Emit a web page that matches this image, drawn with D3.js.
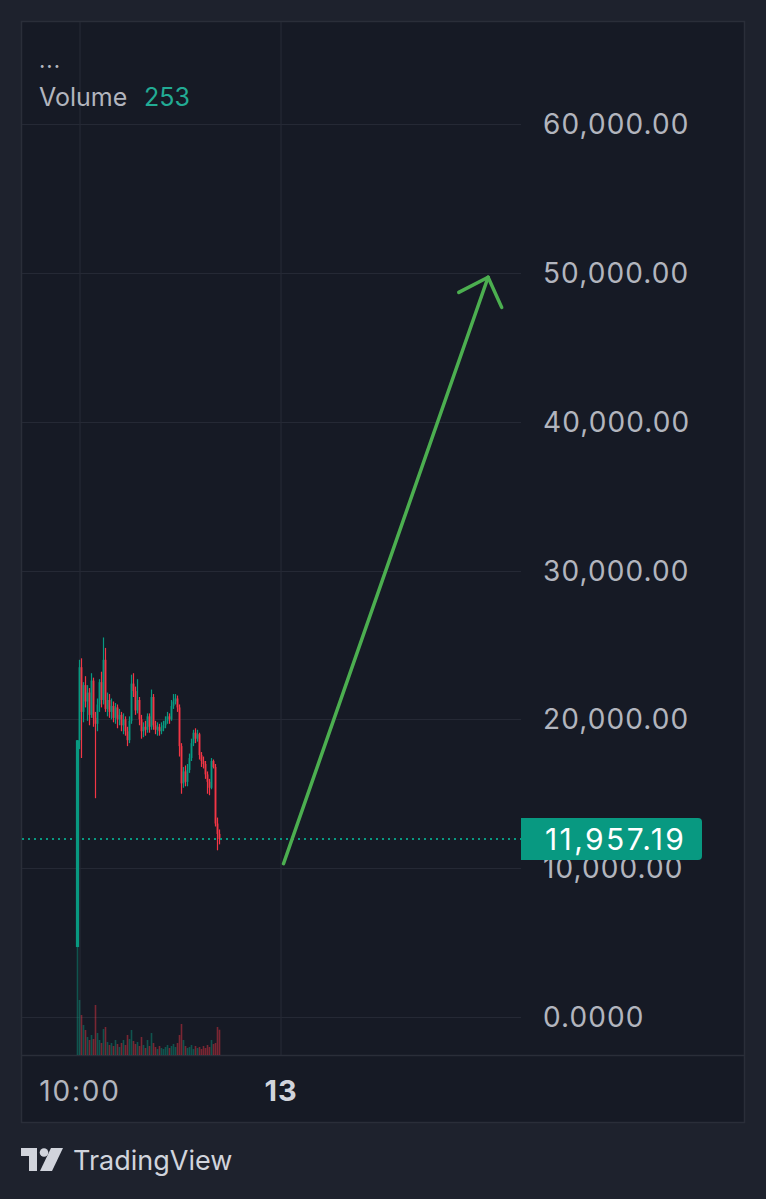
<!DOCTYPE html>
<html><head><meta charset="utf-8">
<script src="https://cdn.jsdelivr.net/npm/d3@7"></script>
<style>html,body{margin:0;padding:0;background:#1e222d;}svg{display:block;}</style>
</head><body>
<svg id="c" width="766" height="1199"></svg>
<script>
// ---- data ----
const opens  = [4700,18600,23500,20500,22300,21200,21800,20300,22600,20100,19700,21000,22500,21300,24000,20700,21300,20500,20900,20100,20800,20000,20300,19600,20000,19200,18600,19900,22400,21900,20600,21300,20000,19200,19500,19300,20200,19500,21500,19600,19300,19500,19200,19400,19600,19900,20200,20000,20900,21200,21400,20800,18200,15700,16500,15800,16600,17400,18400,19100,18700,19000,17600,17200,17000,16300,15800,15400,17200,16800,13000,12300];
const highs  = [18600,24000,24100,22500,22900,22300,22100,23100,22800,20500,21400,22700,23200,25500,24800,21800,21700,21400,21200,21100,21000,20700,20500,20400,20200,19500,20200,23000,23100,22200,22700,21500,20300,19800,19900,20400,20400,22000,21700,19900,19800,19700,19800,19900,20200,20500,20400,21300,21700,21700,21600,21000,18400,16800,16900,17000,17700,18700,19300,19400,19300,19100,17800,17500,17200,16500,16000,17400,17300,17000,13400,12600];
const lows   = [4700,18000,17400,19800,20800,19900,19600,20100,19500,14700,19200,20500,20800,21000,20500,20200,20100,20000,19800,19700,19400,19600,19200,19000,18900,18200,18400,19700,21500,20300,20400,19600,18700,18800,18900,19100,19100,19300,19300,19000,18900,18900,19000,19200,19400,19700,19700,19900,20700,21000,20500,17500,15000,15400,15500,15500,16400,17200,18200,18400,18500,17300,16800,16700,16000,15000,14900,15300,16700,12800,11200,11600];
const closes = [18600,23500,20500,22300,21200,21800,20300,22600,20100,19700,21000,22500,21300,24000,20700,21300,20500,20900,20100,20800,20000,20300,19600,20000,19200,18600,19900,22400,21900,20600,21300,20000,19200,19500,19300,20200,19500,21500,19600,19300,19500,19200,19400,19600,19900,20200,20000,20900,21200,21400,20800,18200,15700,16500,15800,16600,17400,18400,19100,18700,19000,17600,17200,17000,16300,15800,15400,17200,16800,13000,12300,11957.19];
const volumes = [1100,550,400,300,250,180,150,200,160,500,220,150,120,260,280,130,100,120,90,150,110,80,120,150,100,200,160,250,140,110,130,90,180,100,70,150,90,220,120,80,60,90,70,60,80,100,70,90,110,80,120,200,310,150,90,70,80,100,60,90,70,80,60,90,70,100,80,150,110,120,280,253];
const priceTicks = [0,10000,20000,30000,40000,50000,60000];
const priceTickLabels = ["0.0000","10,000.00","20,000.00","30,000.00","40,000.00","50,000.00","60,000.00"];
const timeTicks = [1.25,101.75];
const timeTickLabels = ["10:00","13"];
const lastPriceLabel = "11,957.19";
const volumeLabel = "Volume";
const volumeValueLabel = "253";
// arrow drawing (bar index, price)
const arrowStart = [103, 10300];
const arrowEnd = [205.3, 49700];

// ---- chart ----
const svg = d3.select("#c");
const UP = "#089981", DOWN = "#f23645";
const frame = {x:21, y:21, w:724, h:1102};
const plotRight = 521, plotBottom = 1055;

const x = d3.scaleLinear().domain([0,100]).range([77.5,277.5]);
const y = d3.scaleLinear().domain([0,60000]).range([1017,124]);
const vh = d3.scaleLinear().domain([0,1000]).range([0,100]);

svg.append("rect").attr("width",766).attr("height",1199).attr("fill","#1e222d");
svg.append("rect").attr("x",frame.x+0.5).attr("y",frame.y+0.5).attr("width",frame.w-1).attr("height",frame.h-1)
  .attr("fill","#161a25").attr("stroke","#2a2e39").attr("stroke-width",1.5);

// grid
const grid = svg.append("g").attr("stroke","#252935").attr("stroke-width",1.2);
grid.selectAll("line.h").data(priceTicks).join("line")
  .attr("x1",frame.x+1).attr("x2",plotRight).attr("y1",d=>Math.round(y(d))+0.5).attr("y2",d=>Math.round(y(d))+0.5);
grid.selectAll("line.v").data(timeTicks).join("line")
  .attr("x1",d=>x(d)).attr("x2",d=>x(d)).attr("y1",frame.y+1).attr("y2",plotBottom);
svg.append("line").attr("x1",frame.x).attr("x2",frame.x+frame.w).attr("y1",plotBottom+0.5).attr("y2",plotBottom+0.5)
  .attr("stroke","#2a2e39").attr("stroke-width",1.5);

const idx = d3.range(closes.length);
const col = i => closes[i] >= opens[i] ? UP : DOWN;

// volume
svg.append("g").selectAll("rect").data(idx).join("rect")
  .attr("x",i=>x(i)-0.8).attr("width",1.6)
  .attr("y",i=>plotBottom-vh(volumes[i])).attr("height",i=>vh(volumes[i]))
  .attr("fill",i=>col(i)).attr("opacity",0.45);

// candles
const cg = svg.append("g");
cg.selectAll("line").data(idx).join("line")
  .attr("x1",i=>x(i)).attr("x2",i=>x(i)).attr("y1",i=>y(highs[i])).attr("y2",i=>y(lows[i]))
  .attr("stroke",i=>col(i)).attr("stroke-width",1.2);
cg.selectAll("rect").data(idx).join("rect")
  .attr("x",(i)=>x(i)-(i===0?1.6:0.9)).attr("width",(i)=>i===0?3.2:1.8)
  .attr("y",i=>y(Math.max(opens[i],closes[i])))
  .attr("height",i=>Math.max(1,Math.abs(y(opens[i])-y(closes[i]))))
  .attr("fill",i=>col(i));

// last price dotted line
const lp = closes[closes.length-1];
svg.append("line").attr("x1",frame.x+1).attr("x2",plotRight).attr("y1",y(lp)).attr("y2",y(lp))
  .attr("stroke",UP).attr("stroke-width",2).attr("stroke-dasharray","2,4");

// arrow
const ag = svg.append("g").attr("stroke","#4caf50").attr("stroke-width",3.5).attr("stroke-linecap","round").attr("fill","none");
const sx = x(arrowStart[0]), sy = y(arrowStart[1]), ex = x(arrowEnd[0]), ey = y(arrowEnd[1]);
ag.append("line").attr("x1",sx).attr("y1",sy).attr("x2",ex).attr("y2",ey);
const ang = Math.atan2(sy-ey, sx-ex), L = 33;
[-0.76,0.76].forEach(a=>{
  ag.append("line").attr("x1",ex).attr("y1",ey).attr("x2",ex+L*Math.cos(ang+a)).attr("y2",ey+L*Math.sin(ang+a));
});

// price axis labels
const font = "Inter, 'Noto Sans', sans-serif";
svg.append("g").selectAll("text").data(priceTicks).join("text")
  .attr("x",543).attr("y",d=>y(d)).attr("dy","0.36em")
  .attr("font-family",font).attr("font-size",28).attr("letter-spacing",1.1).attr("fill","#b2b5be")
  .text((d,i)=>priceTickLabels[i]);

// last price label box
const by = y(lp);
svg.append("path").attr("d",`M521,${by-21} H698 a4,4 0 0 1 4,4 V${by+17} a4,4 0 0 1 -4,4 H521 Z`).attr("fill",UP);
svg.append("text").attr("x",545).attr("y",by).attr("dy","0.36em")
  .attr("font-family",font).attr("font-size",30).attr("letter-spacing",2.4).attr("fill","#ffffff").text(lastPriceLabel);

// time axis labels
svg.append("g").selectAll("text").data(timeTicks).join("text")
  .attr("x",d=>x(d)).attr("y",1091).attr("dy","0.36em").attr("text-anchor","middle")
  .attr("font-family",font).attr("font-size",(d,i)=>i===1?29:28)
  .attr("letter-spacing",(d,i)=>i===1?1:1.8)
  .attr("font-weight",(d,i)=>i===1?700:400)
  .attr("fill",(d,i)=>i===1?"#d1d4dc":"#b2b5be")
  .text((d,i)=>timeTickLabels[i]);

// legend
svg.append("text").attr("x",39).attr("y",68).attr("font-family",font).attr("font-size",22).attr("letter-spacing",1).attr("fill","#b2b5be").text("...");
svg.append("text").attr("x",39).attr("y",97).attr("dy","0.36em").attr("font-family",font).attr("font-size",25).attr("fill","#b2b5be").text(volumeLabel);
svg.append("text").attr("x",144).attr("y",97).attr("dy","0.36em").attr("font-family",font).attr("font-size",25).attr("fill","#22ab94").text(volumeValueLabel);

// TradingView logo
const lg = svg.append("g").attr("fill","#d1d4dc");
lg.append("path").attr("d","M21,1148 H37 V1171 H29 V1156 H21 Z");
lg.append("circle").attr("cx",44).attr("cy",1152.5).attr("r",4.3);
lg.append("path").attr("d","M51,1148 H63 L52,1171 H40 Z");
svg.append("text").attr("x",73).attr("y",1160).attr("dy","0.36em").attr("font-family",font).attr("font-size",27).attr("fill","#d1d4dc").text("TradingView");
</script>
</body></html>
